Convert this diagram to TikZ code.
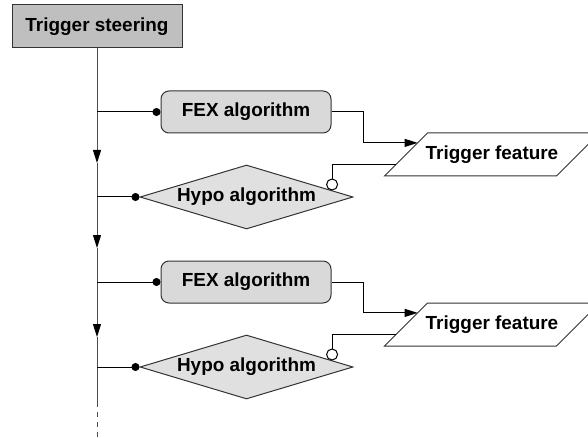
\documentclass[tikz,border=0pt]{standalone}
\usepackage{fontspec}
\setmainfont{Liberation Sans}
\usetikzlibrary{arrows.meta, calc, positioning, shapes.geometric}

\begin{document}
\begin{tikzpicture}[x=0.75pt, y=-0.75pt,
    box/.style={draw=black!80, line width=0.75pt, align=center, inner sep=2pt,
                font=\fontsize{14.2}{16}\selectfont\bfseries},
    steer/.style={box, fill=black!25, minimum width=127.5pt, minimum height=32.25pt},
    fex/.style={box, fill=black!15, rounded corners=6pt,
                minimum width=127.5pt, minimum height=31.5pt},
    hypo/.style={box, diamond, aspect=3.3, fill=black!12, inner sep=0pt,
                 minimum width=159.75pt, minimum height=48pt},
    feat/.style={box, draw=none, outer sep=0pt, inner sep=0pt,
                 minimum width=129pt, minimum height=32.25pt},
    rim/.style={draw=black!80, line width=0.75pt, line join=miter},
    trunk/.style={draw=black!70, line width=0.75pt},
    flow/.style={trunk, -{Triangle[length=9.75pt, width=6pt, color=black]}},
    link/.style={line width=0.75pt, -{Circle[length=6pt]}},
    feed/.style={line width=0.75pt, -{Triangle[length=9.75pt, width=6pt]}},
    hook/.style={line width=0.75pt, {Circle[open, fill=white, length=9pt]}-},
]
\clip (0,0) rectangle (588,438);

\node[steer] (steer) at (97,26.5) {Trigger steering};
\node[fex] (fex1) at (246,112) {FEX algorithm};
\node[hypo] (hypo1) at (246.5,197) {Hypo algorithm};
\node[feat] (tf1) at (492,154.5) {Trigger feature};
\node[fex] (fex2) at (246,282) {FEX algorithm};
\node[hypo] (hypo2) at (246.5,367) {Hypo algorithm};
\node[feat] (tf2) at (492,324.5) {Trigger feature};

% slanted outline of the feature nodes
\coordinate (tf1bl) at ($(tf1.south west)+(-21.5,0)$);
\coordinate (tf1tl) at ($(tf1.north west)+(21.5,0)$);
\draw[rim] (tf1bl) -- (tf1tl) -- ($(tf1.north east)+(21.5,0)$)
   -- ($(tf1.south east)+(-21.5,0)$) -- cycle;
\coordinate (tf2bl) at ($(tf2.south west)+(-21.5,0)$);
\coordinate (tf2tl) at ($(tf2.north west)+(21.5,0)$);
\draw[rim] (tf2bl) -- (tf2tl) -- ($(tf2.north east)+(21.5,0)$)
   -- ($(tf2.south east)+(-21.5,0)$) -- cycle;

% trunk
\coordinate (b1) at (97,112);
\coordinate (m1) at (97,163);
\coordinate (b2) at (97,197);
\coordinate (m2) at (97,248);
\coordinate (b3) at (97,282);
\coordinate (m3) at (97,337);
\coordinate (b4) at (97,367);
\coordinate (tail) at (97,402);
\coordinate (stop) at (97,440);
\draw[flow] (steer.south) -- (m1);
\draw[flow] (m1) -- (m2);
\draw[flow] (m2) -- (m3);
\draw[trunk] (m3) -- (tail);
\draw[trunk, dash pattern=on 3.75pt off 3.75pt] (tail) -- (stop);

% branches
\draw[link] (b1) -- (fex1.west);
\draw[link] (b2) -- (hypo1.west);
\draw[link] (b3) -- (fex2.west);
\draw[link] (b4) -- (hypo2.west);

% features
\draw[feed] (fex1.east) -- ++(32,0) |- ($(tf1bl)!0.77!(tf1tl)$);
\draw[hook] ($(hypo1.east)!0.2!(hypo1.north)$) |- ($(tf1bl)!0.26!(tf1tl)$);
\draw[feed] (fex2.east) -- ++(32,0) |- ($(tf2bl)!0.77!(tf2tl)$);
\draw[hook] ($(hypo2.east)!0.2!(hypo2.north)$) |- ($(tf2bl)!0.26!(tf2tl)$);
\end{tikzpicture}
\end{document}
